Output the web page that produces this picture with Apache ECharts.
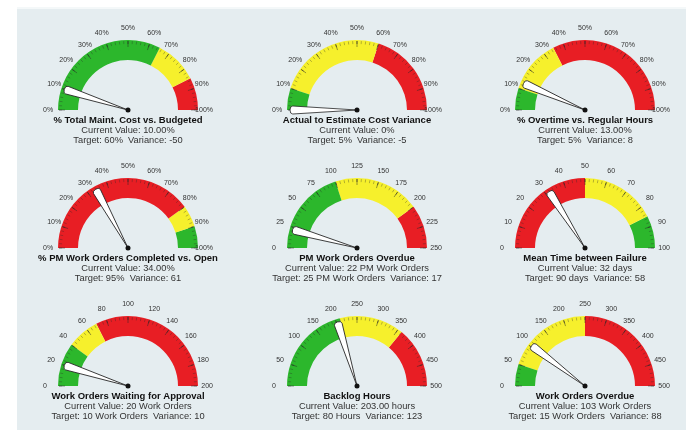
<!DOCTYPE html>
<html>
<head>
<meta charset="utf-8">
<script src="https://cdn.jsdelivr.net/npm/echarts@6/dist/echarts.min.js"></script>
<style>
html,body{margin:0;padding:0;background:#fff;}
#wrap{position:absolute;left:17px;top:7px;right:0;bottom:0;background:#e5edf0;border-top:2px solid #f4f8f9;}
#chart{position:absolute;left:0;top:0;width:686px;height:430px;}
</style>
</head>
<body>
<div id="wrap"></div>
<div id="chart"></div>
<script>
// ---- data ----
const titles = [
  '% Total Maint. Cost vs. Budgeted',
  'Actual to Estimate Cost Variance',
  '% Overtime vs. Regular Hours',
  '% PM Work Orders Completed vs. Open',
  'PM Work Orders Overdue',
  'Mean Time between Failure',
  'Work Orders Waiting for Approval',
  'Backlog Hours',
  'Work Orders Overdue'
];
const minValues = [0, 0, 0, 0, 0, 0, 0, 0, 0];
const maxValues = [100, 100, 100, 100, 250, 100, 200, 500, 500];
const currentValues = [10, 0, 13, 34, 22, 32, 20, 203, 103];
const currentTexts = ['10.00%', '0%', '13.00%', '34.00%', '22 PM Work Orders', '32 days', '20 Work Orders', '203.00 hours', '103 Work Orders'];
const targetTexts = ['60%', '5%', '5%', '95%', '25 PM Work Orders', '90 days', '10 Work Orders', '80 Hours', '15 Work Orders'];
const variances = [-50, -5, 8, 61, 17, 58, 10, 123, 88];
const labelSuffix = ['%', '%', '%', '%', '', '', '', '', ''];
// band upper limits and zone codes (G = green, Y = yellow, R = red)
const bandLimits = [
  [65, 85, 100],
  [10, 60, 100],
  [10, 35, 100],
  [80, 90, 100],
  [100, 200, 250],
  [50, 85, 100],
  [40, 70, 200],
  [210, 360, 500],
  [50, 250, 500]
];
const bandZones = [
  ['G', 'Y', 'R'],
  ['G', 'Y', 'R'],
  ['G', 'Y', 'R'],
  ['R', 'Y', 'G'],
  ['G', 'Y', 'R'],
  ['R', 'Y', 'G'],
  ['G', 'Y', 'R'],
  ['G', 'Y', 'R'],
  ['G', 'Y', 'R']
];

// ---- styles / layout ----
const palette = { G: '#2cb72c', Y: '#f6f02c', R: '#e81e24' };
const colX = [128, 357, 585];
const rowY = [110, 248, 386];
const R = 70;
const W = 20;
const font = '"Liberation Sans", Arial, sans-serif';

const series = titles.map((t, i) => {
  const mn = minValues[i], mx = maxValues[i];
  const colors = bandLimits[i].map((lim, k) => [(lim - mn) / (mx - mn), palette[bandZones[i][k]]]);
  const suffix = labelSuffix[i];
  return {
    type: 'gauge',
    center: [colX[i % 3], rowY[Math.floor(i / 3)]],
    radius: R,
    startAngle: 180,
    endAngle: 0,
    min: mn,
    max: mx,
    splitNumber: 10,
    animation: false,
    axisLine: { lineStyle: { width: W, color: colors } },
    axisTick: { show: true, splitNumber: 5, length: 3, distance: -19, lineStyle: { color: 'rgba(40,40,40,0.55)', width: 0.6 } },
    splitLine: { show: true, length: 6, distance: -19, lineStyle: { color: 'rgba(40,40,40,0.6)', width: 0.8 } },
    axisLabel: {
      show: true, distance: -2, color: '#333', fontSize: 7, fontFamily: font,
      formatter: v => Math.round(v) + suffix
    },
    pointer: {
      show: true,
      icon: 'path://M0,100 L-4,6 A4,4 0 1,1 4,6 Z',
      length: 67, width: 8,
      itemStyle: { color: '#ffffff', borderColor: '#222', borderWidth: 0.8 }
    },
    anchor: { show: true, size: 5, showAbove: true, itemStyle: { color: '#111' } },
    title: {
      show: true, offsetCenter: [0, 10], color: '#111', fontSize: 9.5, fontWeight: 'bold', fontFamily: font
    },
    detail: {
      show: true, offsetCenter: [0, 25], color: '#333', fontSize: 9.3, lineHeight: 10, fontFamily: font, fontWeight: 'normal',
      formatter: () => 'Current Value: ' + currentTexts[i] + '\nTarget: ' + targetTexts[i] + '  Variance: ' + variances[i]
    },
    data: [{ value: currentValues[i], name: t }]
  };
});

const chart = echarts.init(document.getElementById('chart'), null, { renderer: 'canvas' });
chart.setOption({ backgroundColor: 'transparent', animation: false, series });
</script>
</body>
</html>
